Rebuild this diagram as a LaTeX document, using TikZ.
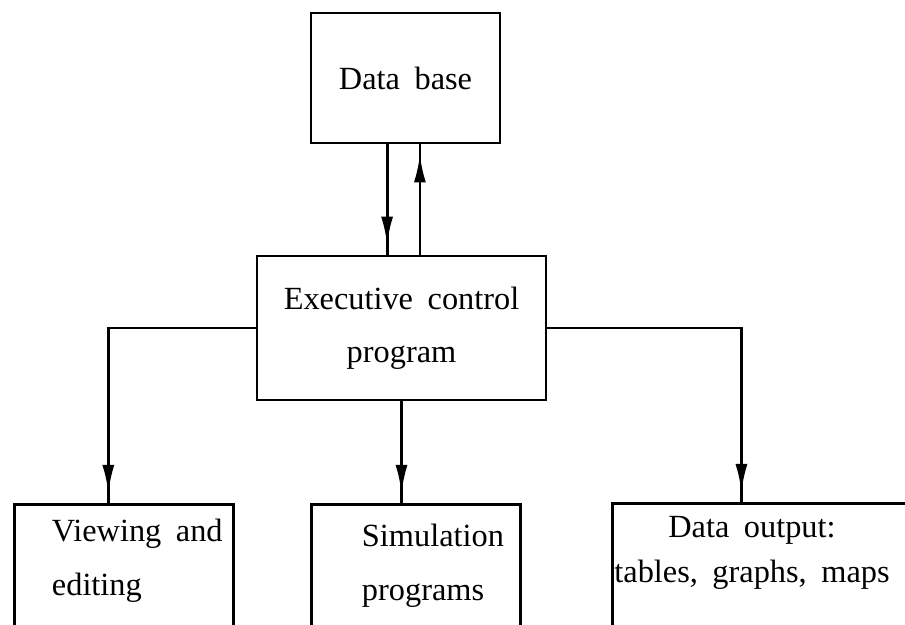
\documentclass[tikz,border=0pt]{standalone}
\usepackage{fontspec}
\setmainfont{Liberation Serif}[WordSpace=1.8]
\usetikzlibrary{positioning, arrows.meta, decorations.markings}

\tikzset{
  box/.style={draw, line width=2pt, inner sep=0pt},
  flow/.style={line width=2pt, postaction={decorate},
    decoration={markings, mark=at position 1 with {\arrow[xshift=-2.5mm]{Latex[length=7mm,width=3mm]}}}},
}

\begin{document}
\begin{tikzpicture}[x=0.025cm, y=-0.025cm, font=\fontsize{23}{38}\selectfont]
  \useasboundingbox (0,0) rectangle (905,624);
  \clip (0,0) rectangle (905,624);
  % data base and control program
  \node[box, minimum width=4.725cm, minimum height=3.25cm] (db) at (405.5,78) {Data base};
  \node[box, minimum width=7.225cm, minimum height=3.6cm, align=center] (exe) at (401.5,328) {Executive control\\program};
  % bottom row, runs off the lower edge
  \node[box, anchor=north west, minimum width=5.475cm, minimum height=4cm] (view) at (13,503) {};
  \node[box, anchor=north west, minimum width=5.225cm, minimum height=4cm] (sim) at (310,503) {};
  \node[box, anchor=north west, minimum width=8.5cm, minimum height=4cm] (out) at (611,502) {};
  \node[anchor=base west, align=left] (viewtxt) at (47,595) {Viewing and\\editing};
  \node[anchor=base west, align=left] (simtxt) at (357,600) {Simulation\\programs};
  \node[anchor=base, align=center, font=\fontsize{23}{32}\selectfont] (outtxt) at (752,582) {Data output:\\tables, graphs, maps};
  % connectors
  \draw[flow] ([xshift=-4.6mm]db.south) -- ([xshift=-4.6mm]db.south |- exe.north);
  \draw[flow] ([xshift=3.6mm]db.south |- exe.north) -- ([xshift=3.6mm]db.south);
  \draw[flow] (exe.west) -| ([xshift=-3.9mm]view.north);
  \draw[flow] (exe.south) -- (exe.south |- sim.north);
  \draw[flow] (exe.east) -| ([xshift=-10.25mm]out.north);
\end{tikzpicture}
\end{document}
